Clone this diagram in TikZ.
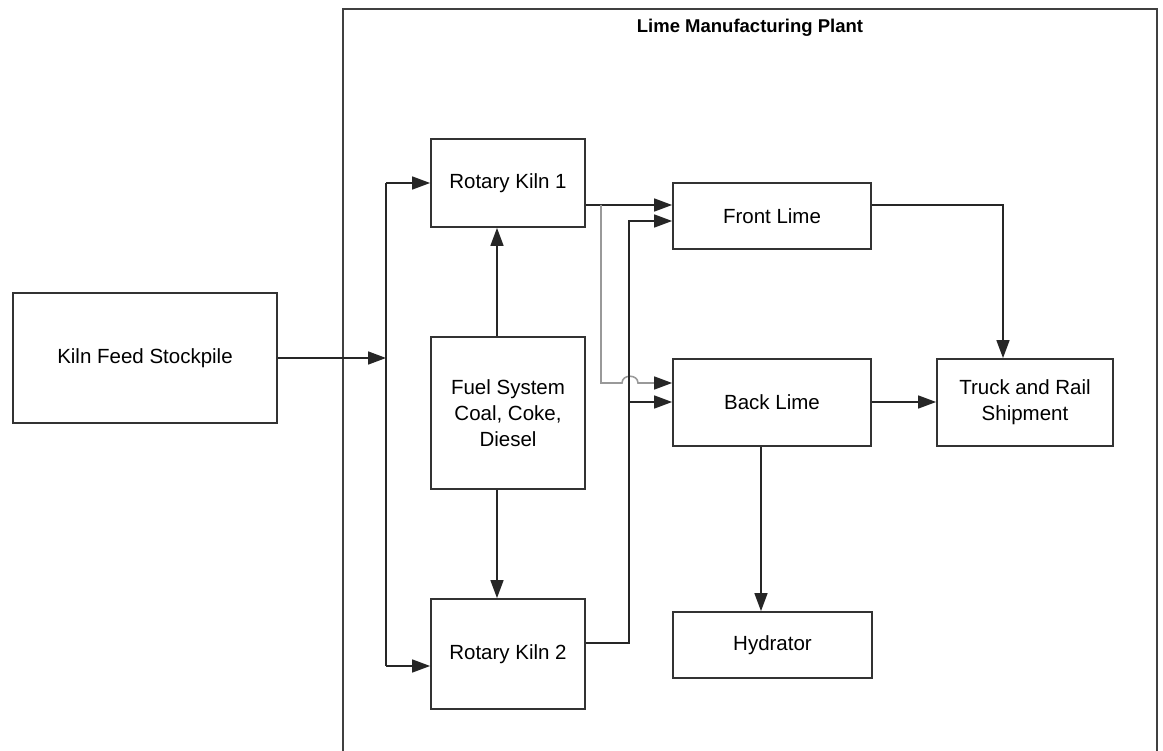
\documentclass[tikz,border=0pt]{standalone}
\usepackage{fontspec}
\setmainfont{Liberation Sans}
\usetikzlibrary{arrows.meta}
\begin{document}
\begin{tikzpicture}[x=1pt,y=-1pt,
  box/.style={draw=black!80, line width=1.8pt, fill=white, inner sep=0pt, align=center,
    font=\fontsize{20.5}{26}\selectfont},
  conn/.style={draw=black!85, line width=1.6pt},
  arr/.style={conn, -{Triangle[length=18pt,width=13pt]}},
  grayarr/.style={draw=black!40, line width=1.6pt, -{Triangle[length=18pt,width=13pt,color=black!85]}},
  frame/.style={draw=black!75, line width=1.8pt}]
\useasboundingbox (0,0) rectangle (1163,751);

% plant frame
\coordinate (fBL) at (343,760);
\coordinate (fTL) at (343,9);
\coordinate (fTR) at (1157,9);
\coordinate (fBR) at (1157,760);
\draw[frame] (fBL) -- (fTL) -- (fTR) -- (fBR);
\node[font=\bfseries\fontsize{18.5}{22}\selectfont] (title) at (750,28) {Lime Manufacturing Plant};

% boxes
\node[box, minimum width=264pt, minimum height=130pt] (stock) at (145,358) {Kiln Feed Stockpile};
\node[box, minimum width=154pt, minimum height=88pt]  (kiln1) at (508,183) {Rotary Kiln 1};
\node[box, minimum width=154pt, minimum height=152pt] (fuel)  at (508,413) {Fuel System\\Coal, Coke,\\Diesel};
\node[box, minimum width=154pt, minimum height=110pt] (kiln2) at (508,654) {Rotary Kiln 2};
\node[box, minimum width=198pt, minimum height=66pt]  (front) at (772,216) {Front Lime};
\node[box, minimum width=198pt, minimum height=87pt]  (back)  at (772,402.5) {Back Lime};
\node[box, minimum width=176pt, minimum height=87pt]  (truck) at (1025,402.5) {Truck and Rail\\Shipment};
\node[box, minimum width=199pt, minimum height=66pt]  (hydr)  at (772.5,645) {Hydrator};

% helper coordinates
\coordinate (busT) at (386,183);
\coordinate (busB) at (386,666);
\coordinate (fx) at (497,0);
\coordinate (y205) at (0,205);
\coordinate (y221) at (0,221);
\coordinate (y383) at (0,383);
\coordinate (y402) at (0,402);
\coordinate (y643) at (0,643);
\coordinate (k1br) at (601,205);
\coordinate (k2up) at (629,643);
\coordinate (k2top) at (629,221);
\coordinate (k2br) at (629,402);
\coordinate (hopA) at (622,383);
\coordinate (hopB) at (638,383);
\coordinate (x1003) at (1003,0);
\coordinate (x761) at (761,0);

% feed bus
\draw[conn] (busT) -- (busB);
\draw[arr] (stock.east) -- (stock.east -| busT);
\draw[arr] (busT) -- (kiln1.west);
\draw[arr] (busB) -- (busB -| kiln2.west);

% fuel
\draw[arr] (fuel.north -| fx) -- (kiln1.south -| fx);
\draw[arr] (fuel.south -| fx) -- (kiln2.north -| fx);

% kiln 1 outputs
\draw[arr] (kiln1.east |- y205) -- (front.west |- y205);
\draw[grayarr] (k1br) -- (k1br |- y383) -- (hopA)
  .. controls (622,374) and (638,374) .. (hopB) -- (back.west |- y383);

% kiln 2 outputs
\draw[arr] (kiln2.east |- y643) -- (k2up) -- (k2top) -- (front.west |- y221);
\draw[arr] (k2br) -- (back.west |- y402);

% lime outputs
\draw[arr] (front.east |- y205) -| (truck.north -| x1003);
\draw[arr] (back.east |- y402) -- (truck.west |- y402);
\draw[arr] (back.south -| x761) -- (hydr.north -| x761);
\end{tikzpicture}
\end{document}
